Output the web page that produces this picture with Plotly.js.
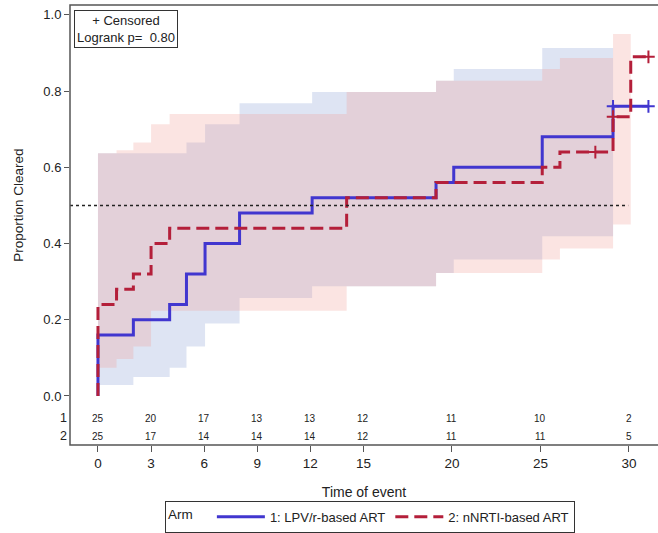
<!DOCTYPE html>
<html>
<head>
<meta charset="utf-8">
<script src="https://cdn.plot.ly/plotly-3.0.1.min.js"></script>
<style>html,body{margin:0;padding:0;background:#fff;}#chart{width:658px;height:533px;}</style>
</head>
<body>
<div id="chart"></div>
<script>
// Kaplan-Meier style cumulative proportion cleared (step functions)
const arm1Name = "1: LPV/r-based ART";
const arm2Name = "2: nNRTI-based ART";

const arm1Times = [0, 0, 2.0, 4.05, 5.0, 6.05, 8.0, 12.1, 19.1, 20.1, 25.1, 29.1, 31.1];
const arm1Prop  = [0, 0.16, 0.20, 0.24, 0.32, 0.40, 0.48, 0.52, 0.56, 0.60, 0.68, 0.76, 0.76];
const arm2Times = [0, 0, 1.05, 2.0, 3.0, 4.05, 14.05, 19.1, 25.1, 26.1, 29.1, 30.1, 31.1];
const arm2Prop  = [0, 0.24, 0.28, 0.32, 0.40, 0.44, 0.52, 0.56, 0.60, 0.64, 0.733, 0.89, 0.89];

// Censored observations
const arm1CensT = [29.1, 31.1];
const arm1CensP = [0.76, 0.76];
const arm2CensT = [28.1, 29.1, 31.1];
const arm2CensP = [0.64, 0.733, 0.89];

// Confidence bands
const arm1BandT  = [0, 2, 4.05, 5, 6.05, 8, 12.1, 19.1, 20.1, 25.1, 29.1];
const arm1Lower  = [0.029, 0.05, 0.074, 0.13, 0.19, 0.257, 0.288, 0.323, 0.358, 0.419, 0.419];
const arm1Upper  = [0.637, 0.637, 0.637, 0.665, 0.713, 0.768, 0.798, 0.827, 0.858, 0.913, 0.913];
const arm2BandT  = [0, 1.05, 2, 3, 4.05, 14.05, 19.1, 25.1, 26.1, 29.1, 30.1];
const arm2Lower  = [0.074, 0.097, 0.13, 0.224, 0.224, 0.288, 0.323, 0.358, 0.387, 0.45, 0.45];
const arm2Upper  = [0.637, 0.645, 0.665, 0.713, 0.74, 0.798, 0.827, 0.858, 0.887, 0.95, 0.95];

// Number at risk table
const riskTimes = [0, 3, 6, 9, 12, 15, 20, 25, 30];
const arm1Risk  = [25, 20, 17, 13, 13, 12, 11, 10, 2];
const arm2Risk  = [25, 17, 14, 14, 14, 12, 11, 11, 5];

const xTicks = [0, 3, 6, 9, 12, 15, 20, 25, 30];
const yTicks = [0, 0.2, 0.4, 0.6, 0.8, 1.0];
const yTickText = ["0.0", "0.2", "0.4", "0.6", "0.8", "1.0"];

const blueLine = "#4136cf";
const redLine = "#b41f3a";
const blueFill = "rgba(137,158,212,0.28)";
const redFill = "rgba(240,158,151,0.28)";
const font = "Liberation Sans, Arial, sans-serif";

const traces = [
  {x: arm1BandT, y: arm1Lower, mode: "lines", line: {width: 0, shape: "hv"}, showlegend: false, hoverinfo: "skip"},
  {x: arm1BandT, y: arm1Upper, mode: "lines", line: {width: 0, shape: "hv"}, fill: "tonexty", fillcolor: blueFill, showlegend: false, hoverinfo: "skip"},
  {x: arm2BandT, y: arm2Lower, mode: "lines", line: {width: 0, shape: "hv"}, showlegend: false, hoverinfo: "skip"},
  {x: arm2BandT, y: arm2Upper, mode: "lines", line: {width: 0, shape: "hv"}, fill: "tonexty", fillcolor: redFill, showlegend: false, hoverinfo: "skip"},
  {x: arm1Times, y: arm1Prop, mode: "lines", name: arm1Name, line: {color: blueLine, width: 3, shape: "hv"}},
  {x: arm2Times, y: arm2Prop, mode: "lines", name: arm2Name, line: {color: redLine, width: 3, shape: "hv", dash: "13px,6px"}},
  {x: arm1CensT, y: arm1CensP, mode: "markers", showlegend: false, marker: {symbol: "cross-thin-open", size: 9, color: blueLine, line: {color: blueLine, width: 2}}},
  {x: arm2CensT, y: arm2CensP, mode: "markers", showlegend: false, marker: {symbol: "cross-thin-open", size: 9, color: redLine, line: {color: redLine, width: 2}}}
];

const annotations = [];
riskTimes.forEach((t, i) => {
  annotations.push({x: t, y: -0.058, xref: "x", yref: "y", text: String(arm1Risk[i]), showarrow: false, font: {size: 10, color: "#222", family: font}});
  annotations.push({x: t, y: -0.105, xref: "x", yref: "y", text: String(arm2Risk[i]), showarrow: false, font: {size: 10, color: "#222", family: font}});
});
annotations.push({x: -0.02, y: -0.058, xref: "paper", yref: "y", text: "1", showarrow: false, font: {size: 12.5, color: "#222", family: font}});
annotations.push({x: -0.02, y: -0.105, xref: "paper", yref: "y", text: "2", showarrow: false, font: {size: 12.5, color: "#222", family: font}});
annotations.push({x: 0.0068, y: 0.988, xref: "paper", yref: "paper", xanchor: "left", yanchor: "top",
  text: "+ Censored<br>Logrank p=  0.80", showarrow: false, align: "center",
  bordercolor: "#333", borderwidth: 1, borderpad: 2, bgcolor: "#fff", font: {size: 13, color: "#222", family: font}});
annotations.push({x: -0.088, y: 0.5, xref: "paper", yref: "y", text: "Proportion Cleared", textangle: -90,
  showarrow: false, font: {size: 13.5, color: "#222", family: font}, xanchor: "center"});

const layout = {
  width: 658, height: 533,
  margin: {l: 70, r: 0, t: 5, b: 88, autoexpand: false},
  paper_bgcolor: "#fff", plot_bgcolor: "#fff",
  font: {family: font, color: "#222"},
  xaxis: {
    range: [-1.58, 31.64], tickvals: xTicks, ticktext: xTicks.map(String),
    ticks: "outside", ticklen: 6, tickcolor: "#555", tickwidth: 1,
    showgrid: false, zeroline: false, showline: false,
    tickfont: {size: 13.5, color: "#222"},
    title: {text: "Time of event", font: {size: 14, color: "#222"}, standoff: 16}
  },
  yaxis: {
    range: [-0.1286, 1.026], tickvals: yTicks, ticktext: yTickText,
    ticks: "outside", ticklen: 5, tickcolor: "#555", tickwidth: 1,
    showgrid: false, zeroline: false, showline: false,
    tickfont: {size: 13, color: "#222"}
  },
  shapes: [
    {type: "line", xref: "paper", yref: "y", x0: 0, x1: 0.9493, y0: 0.5, y1: 0.5, line: {color: "#222", width: 1.5, dash: "dot"}, layer: "above"},
    {type: "rect", xref: "paper", yref: "paper", x0: 0, x1: 1.01, y0: 0, y1: 1, line: {color: "#555", width: 1.5}, fillcolor: "rgba(0,0,0,0)"}
  ],
  annotations: annotations,
  showlegend: true,
  legend: {
    orientation: "h", x: 0.51, xanchor: "center", y: -0.127, yanchor: "top",
    bordercolor: "#333", borderwidth: 1, bgcolor: "#fff",
    title: {text: "Arm   ", side: "left", font: {size: 13.5, color: "#222"}},
    font: {size: 13, color: "#222"}, itemwidth: 48, traceorder: "normal"
  }
};

Plotly.newPlot("chart", traces, layout, {displayModeBar: false, staticPlot: true});
</script>
</body>
</html>
